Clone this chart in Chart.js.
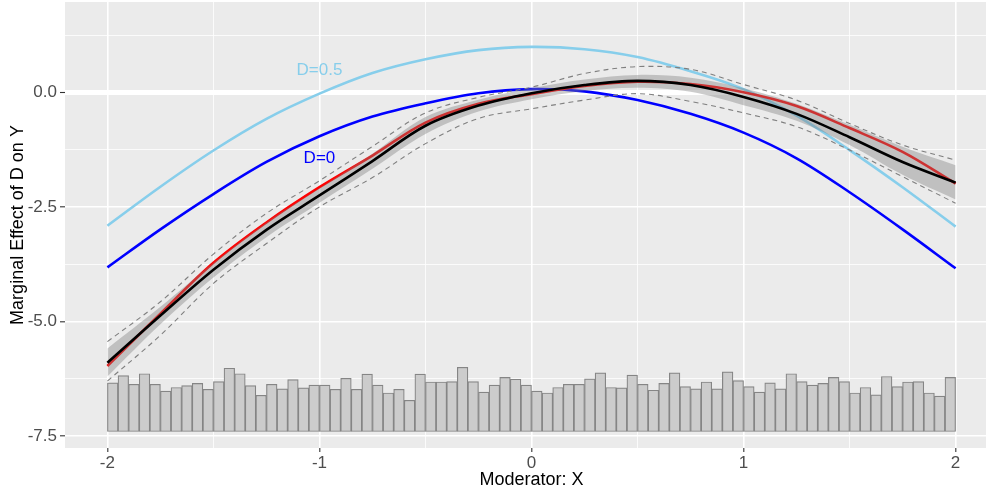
<!DOCTYPE html>
<html>
<head>
<meta charset="utf-8">
<script src="https://cdn.jsdelivr.net/npm/chart.js@4.4.1/dist/chart.umd.min.js"></script>
<style>
  html, body { margin: 0; padding: 0; overflow: hidden; background: #FFFFFF; }
  canvas { display: block; }
</style>
</head>
<body>
<canvas id="c" width="1000" height="493"></canvas>
<script>
// ---------------- data ----------------
const xGrid = [-2, -1.75, -1.5, -1.25, -1, -0.75, -0.5, -0.25, 0, 0.25, 0.5, 0.75, 1, 1.25, 1.5, 1.75, 2];

// marginal effect at D = 0.5 (light blue) and D = 0 (blue)
const meD05 = [-2.91, -2.06, -1.27, -0.58, -0.03, 0.42, 0.72, 0.92, 0.99, 0.94, 0.77, 0.46, 0.07, -0.51, -1.26, -2.07, -2.93];
const meD0  = [-3.82, -2.99, -2.22, -1.52, -0.96, -0.53, -0.24, -0.02, 0.07, 0.02, -0.17, -0.47, -0.88, -1.44, -2.18, -2.99, -3.84];

// red curve
const redLine = [-5.97, -4.83, -3.72, -2.84, -2.07, -1.38, -0.66, -0.25, -0.04, 0.14, 0.23, 0.18, 0.00, -0.30, -0.78, -1.30, -1.99];
// black estimate
const estLine = [-5.90, -4.87, -3.87, -3.00, -2.25, -1.50, -0.73, -0.29, -0.02, 0.16, 0.25, 0.16, -0.10, -0.47, -0.98, -1.52, -1.97];
// pointwise band (grey ribbon)
const bandUpper = [-5.59, -4.68, -3.72, -2.84, -2.09, -1.34, -0.54, -0.16, 0.09, 0.28, 0.38, 0.32, 0.09, -0.25, -0.71, -1.19, -1.59];
const bandLower = [-6.20, -5.06, -4.04, -3.16, -2.41, -1.67, -0.91, -0.42, -0.15, 0.03, 0.10, 0.01, -0.28, -0.62, -1.15, -1.80, -2.34];
// dashed interval
const ciUpper = [-5.44, -4.57, -3.53, -2.64, -1.93, -1.18, -0.45, -0.11, 0.11, 0.41, 0.56, 0.50, 0.17, -0.17, -0.68, -1.15, -1.48];
const ciLower = [-6.30, -5.30, -4.17, -3.30, -2.50, -1.86, -1.12, -0.57, -0.36, -0.17, -0.03, -0.20, -0.45, -0.75, -1.26, -1.84, -2.42];

// histogram of the moderator (bar tops in y units, common base)
const histLow = -2, histHigh = 2, histBase = -7.40;
const histTop = [
  -6.34, -6.18, -6.37, -6.14, -6.37, -6.52, -6.44, -6.40, -6.35, -6.48,
  -6.31, -6.02, -6.14, -6.40, -6.61, -6.37, -6.47, -6.27, -6.45, -6.39,
  -6.39, -6.48, -6.24, -6.48, -6.15, -6.39, -6.56, -6.48, -6.72, -6.15,
  -6.32, -6.32, -6.31, -6.00, -6.31, -6.54, -6.39, -6.22, -6.26, -6.39,
  -6.52, -6.56, -6.44, -6.37, -6.37, -6.25, -6.12, -6.44, -6.45, -6.17,
  -6.37, -6.50, -6.35, -6.12, -6.42, -6.47, -6.32, -6.47, -6.10, -6.29,
  -6.42, -6.54, -6.34, -6.47, -6.14, -6.31, -6.39, -6.35, -6.22, -6.31,
  -6.56, -6.44, -6.60, -6.20, -6.42, -6.32, -6.31, -6.56, -6.63, -6.22
];

// axes
const xMajor = [-2, -1, 0, 1, 2];
const xMinor = [-1.5, -0.5, 0.5, 1.5];
const xTickLabels = ['-2', '-1', '0', '1', '2'];
const yMajor = [-7.5, -5, -2.5, 0];
const yMinor = [-6.25, -3.75, -1.25, 1.25];
const yTickLabels = ['-7.5', '-5.0', '-2.5', '0.0'];
const xRange = [-2.2, 2.2];
const yRange = [-7.76, 1.97];

// text labels on the curves
const curveLabelText = ['D=0.5', 'D=0'];
const curveLabelX = [-1, -1];
const curveLabelY = [0.48, -1.43];

// ---------------- build ----------------
const FONT = '"Liberation Sans", Arial, sans-serif';
const pts = ys => xGrid.map((x, i) => ({ x: x, y: ys[i] }));
const histWidth = (histHigh - histLow) / histTop.length;
const histData = histTop.map((t, i) => ({ x: histLow + (i + 0.5) * histWidth, y: [histBase, t] }));

const lineBase = { type: 'line', pointRadius: 0, fill: false, tension: 0.35 };

const panelBg = {
  id: 'panelBg',
  beforeDraw(chart) {
    const { ctx, chartArea: a } = chart;
    ctx.save();
    ctx.fillStyle = '#EBEBEB';
    ctx.fillRect(a.left, a.top, a.right - a.left, a.bottom - a.top);
    ctx.restore();
  }
};

const labelColors = ['#87CEEB', '#0000FF'];
const curveLabels = {
  id: 'curveLabels',
  afterDatasetsDraw(chart) {
    const { ctx, scales } = chart;
    ctx.save();
    ctx.font = '17px ' + FONT;
    ctx.textAlign = 'center';
    ctx.textBaseline = 'middle';
    curveLabelText.forEach((t, i) => {
      ctx.fillStyle = labelColors[i];
      ctx.fillText(t, scales.x.getPixelForValue(curveLabelX[i]), scales.y.getPixelForValue(curveLabelY[i]));
    });
    ctx.restore();
  }
};

const isIn = (arr, v) => arr.some(a => Math.abs(a - v) < 1e-9);

new Chart(document.getElementById('c'), {
  type: 'line',
  data: {
    datasets: [
      { ...lineBase, label: 'estimate', data: pts(estLine), borderColor: '#000000', borderWidth: 2.6, order: 1 },
      { ...lineBase, label: 'ci upper', data: pts(ciUpper), borderColor: '#7F7F7F', borderWidth: 1.1, borderDash: [5, 4], order: 3 },
      { ...lineBase, label: 'ci lower', data: pts(ciLower), borderColor: '#7F7F7F', borderWidth: 1.1, borderDash: [5, 4], order: 3 },
      { ...lineBase, label: 'band upper', data: pts(bandUpper), borderWidth: 0, borderColor: 'rgba(0,0,0,0)', backgroundColor: 'rgba(127,127,127,0.4)', fill: '+1', order: 6 },
      { ...lineBase, label: 'band lower', data: pts(bandLower), borderWidth: 0, borderColor: 'rgba(0,0,0,0)', order: 6 },
      { ...lineBase, label: 'red', data: pts(redLine), borderColor: '#FF0000', borderWidth: 2.6, order: 7 },
      { ...lineBase, label: 'D=0.5', data: pts(meD05), borderColor: '#87CEEB', borderWidth: 2.6, order: 8 },
      { ...lineBase, label: 'D=0', data: pts(meD0), borderColor: '#0000FF', borderWidth: 2.6, order: 9 },
      {
        type: 'bar', label: 'histogram', data: histData,
        backgroundColor: '#CCCCCC', borderColor: '#858585', borderWidth: 1.2,
        borderSkipped: false, barPercentage: 1, categoryPercentage: 1, grouped: false, order: 10
      }
    ]
  },
  options: {
    responsive: false,
    animation: false,
    devicePixelRatio: 1,
    layout: { padding: { left: 0, top: 2, right: 2, bottom: 0 } },
    plugins: { legend: { display: false }, tooltip: { enabled: false } },
    scales: {
      x: {
        type: 'linear',
        min: xRange[0], max: xRange[1],
        offset: false,
        afterFit: s => { s.height = 45; s.paddingLeft = 0; s.paddingRight = 0; },
        afterBuildTicks: s => { s.ticks = xMajor.concat(xMinor).sort((a, b) => a - b).map(v => ({ value: v })); },
        border: { display: false },
        grid: {
          offset: false,
          color: '#FFFFFF',
          lineWidth: c => (c.tick && isIn(xMajor, c.tick.value)) ? 1.6 : 0.8,
          tickColor: c => (c.tick && isIn(xMajor, c.tick.value)) ? '#333333' : 'rgba(0,0,0,0)',
          tickLength: 4, tickWidth: 1.1
        },
        ticks: {
          autoSkip: false, maxRotation: 0, padding: 1,
          color: '#4D4D4D', font: { family: FONT, size: 17 },
          callback: v => { const i = xMajor.findIndex(m => Math.abs(m - v) < 1e-9); return i >= 0 ? xTickLabels[i] : ''; }
        },
        title: { display: true, text: 'Moderator: X', color: '#000000', font: { family: FONT, size: 18 }, padding: { top: 0, bottom: 2 } }
      },
      y: {
        type: 'linear',
        position: 'left',
        min: yRange[0], max: yRange[1],
        afterFit: s => { s.width = 65; s.paddingTop = 0; s.paddingBottom = 0; },
        afterBuildTicks: s => { s.ticks = yMajor.concat(yMinor).sort((a, b) => a - b).map(v => ({ value: v })); },
        border: { display: false },
        grid: {
          offset: false,
          color: '#FFFFFF',
          lineWidth: c => {
            if (!c.tick) return 0.8;
            if (Math.abs(c.tick.value) < 1e-9) return 5;
            return isIn(yMajor, c.tick.value) ? 1.6 : 0.8;
          },
          tickColor: c => (c.tick && isIn(yMajor, c.tick.value)) ? '#333333' : 'rgba(0,0,0,0)',
          tickLength: 5, tickWidth: 1.1
        },
        ticks: {
          autoSkip: false, padding: 3,
          color: '#4D4D4D', font: { family: FONT, size: 17 },
          callback: v => { const i = yMajor.findIndex(m => Math.abs(m - v) < 1e-9); return i >= 0 ? yTickLabels[i] : ''; }
        },
        title: { display: true, text: 'Marginal Effect of D on Y', color: '#000000', font: { family: FONT, size: 18 }, padding: { top: 7, bottom: 0 } }
      }
    }
  },
  plugins: [panelBg, curveLabels]
});
</script>
</body>
</html>
